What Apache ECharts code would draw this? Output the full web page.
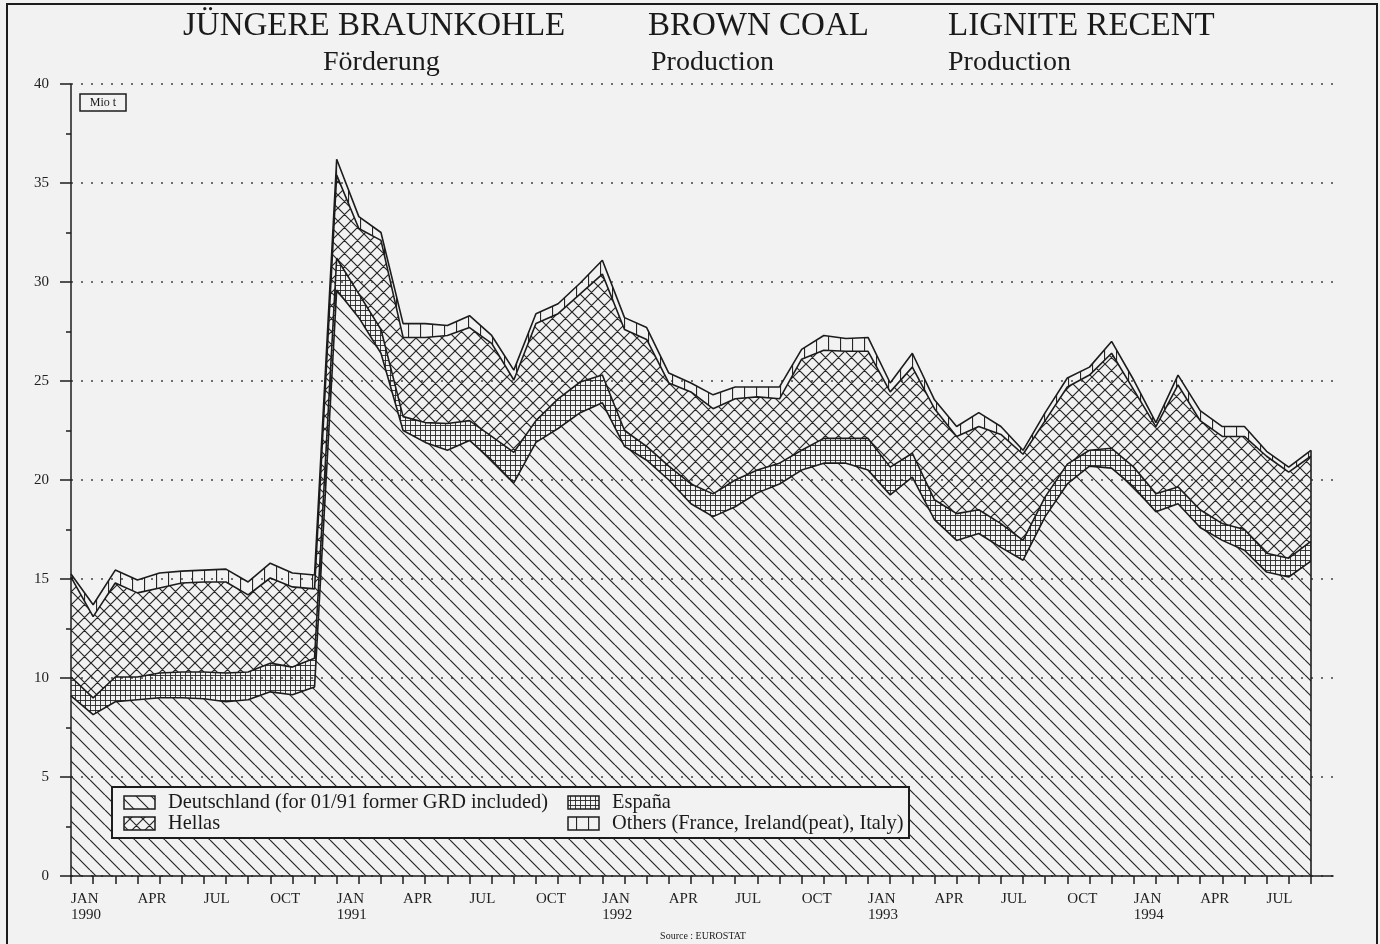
<!DOCTYPE html>
<html>
<head>
<meta charset="utf-8">
<title>Jüngere Braunkohle – Förderung</title>
<script src="https://cdn.jsdelivr.net/npm/echarts@6/dist/echarts.min.js"></script>
<style>
  html, body { margin: 0; padding: 0; background: #f2f2f2; }
  #chart { width: 1380px; height: 944px; }
</style>
</head>
<body>
<div id="chart"></div>
<script>
// monthly production, Mio t, Jan 1990 .. Sep 1994
var monthNames = ["JAN", "FEB", "MAR", "APR", "MAY", "JUN", "JUL", "AUG", "SEP", "OCT", "NOV", "DEC"];
var firstYear = 1990;
var monthCount = 57;
var yTicks = [0, 5, 10, 15, 20, 25, 30, 35, 40];

var deutschland = [9.1, 8.15, 8.8, 8.9, 9.0, 9.0, 8.95, 8.8, 8.9, 9.3, 9.15, 9.55,
  29.6, 28.2, 26.4, 22.5, 21.9, 21.5, 22.0, 21.0, 19.85, 21.9, 22.6, 23.4,
  23.9, 21.7, 21.0, 20.0, 18.8, 18.15, 18.65, 19.35, 19.8, 20.5, 20.85, 20.85,
  20.5, 19.25, 20.15, 18.0, 16.95, 17.3, 16.6, 15.95, 18.15, 19.8, 20.7, 20.6,
  19.65, 18.4, 18.8, 17.6, 16.95, 16.45, 15.35, 15.1, 15.9];
var espana = [0.95, 0.85, 1.25, 1.15, 1.25, 1.3, 1.35, 1.45, 1.4, 1.45, 1.4, 1.45,
  1.6, 1.2, 1.2, 0.7, 1.0, 1.35, 1.0, 1.2, 1.55, 1.1, 1.5, 1.55,
  1.4, 0.8, 0.7, 0.7, 1.0, 1.15, 1.35, 1.15, 1.05, 1.0, 1.25, 1.25,
  1.6, 1.4, 1.2, 1.0, 1.35, 1.2, 1.2, 1.0, 1.0, 1.0, 0.8, 1.0,
  1.0, 0.9, 0.85, 0.9, 0.85, 1.05, 0.95, 0.95, 1.0];
var hellas = [5.05, 4.1, 4.75, 4.25, 4.3, 4.5, 4.55, 4.6, 3.9, 4.3, 4.05, 3.5,
  4.2, 3.3, 4.5, 4.0, 4.3, 4.45, 4.7, 4.7, 3.65, 4.9, 4.3, 4.45,
  5.1, 5.1, 5.4, 4.2, 4.65, 4.3, 4.1, 3.7, 3.25, 4.6, 4.45, 4.4,
  4.4, 3.8, 4.35, 4.6, 3.9, 4.2, 4.5, 4.35, 3.85, 3.9, 3.8, 4.8,
  3.9, 3.4, 5.15, 4.5, 4.4, 4.7, 4.9, 4.35, 4.3];
var others = [0.15, 0.6, 0.65, 0.65, 0.75, 0.6, 0.6, 0.65, 0.65, 0.75, 0.7, 0.7,
  0.8, 0.6, 0.4, 0.7, 0.7, 0.5, 0.6, 0.4, 0.5, 0.5, 0.5, 0.55,
  0.7, 0.6, 0.6, 0.5, 0.45, 0.7, 0.6, 0.5, 0.6, 0.5, 0.75, 0.65,
  0.7, 0.45, 0.7, 0.45, 0.5, 0.7, 0.4, 0.2, 0.4, 0.45, 0.4, 0.6,
  0.5, 0.2, 0.5, 0.5, 0.5, 0.5, 0.25, 0.25, 0.3];

var seriesNames = [
  "Deutschland (for 01/91 former GRD included)",
  "España",
  "Hellas",
  "Others (France, Ireland(peat), Italy)"
];

// one extra empty slot so the axis runs on past the last month
var categories = [];
for (var i = 0; i < monthCount; i++) {
  categories.push(monthNames[i % 12] + " " + (firstYear + Math.floor(i / 12)));
}
categories.push("");

var ink = "#1c1c1c";
var serif = "'Liberation Serif', 'DejaVu Serif', serif";

function makeTile(size, width, draw) {
  var c = document.createElement("canvas");
  c.width = size;
  c.height = size;
  var g = c.getContext("2d");
  g.strokeStyle = "#262626";
  g.lineWidth = width;
  g.beginPath();
  draw(g, size);
  g.stroke();
  return c;
}
var diagTile = makeTile(15, 1.2, function (g, s) {
  for (var k = -1; k <= 1; k++) { g.moveTo(k * s, 0); g.lineTo(k * s + s, s); }
});
var crossTile = makeTile(13, 1.2, function (g, s) {
  for (var k = -1; k <= 1; k++) {
    g.moveTo(k * s, 0); g.lineTo(k * s + s, s);
    g.moveTo(k * s, s); g.lineTo(k * s + s, 0);
  }
});
var gridTile = makeTile(5, 0.9, function (g, s) {
  g.moveTo(0.5, 0); g.lineTo(0.5, s);
  g.moveTo(0, 0.5); g.lineTo(s, 0.5);
});
var vertTile = makeTile(12, 1.2, function (g, s) {
  g.moveTo(0.5, 0); g.lineTo(0.5, s);
});
function pattern(tile) {
  return { image: tile, repeat: "repeat" };
}
var tiles = [diagTile, gridTile, crossTile, vertTile];
var values = [deutschland, espana, hellas, others];

var total = deutschland.map(function (v, i) { return v + espana[i] + hellas[i] + others[i]; });
var last = monthCount - 1;

var series = values.map(function (vals, n) {
  var s = {
    name: seriesNames[n],
    type: "line",
    stack: "coal",
    data: vals,
    symbol: "none",
    silent: true,
    lineStyle: { color: ink, width: 1.6 },
    areaStyle: { color: pattern(tiles[n]), opacity: 1 }
  };
  if (n === 3) {
    s.markLine = {
      silent: true,
      symbol: "none",
      label: { show: false },
      lineStyle: { color: ink, width: 1.6, type: "solid" },
      data: [[{ coord: [last, 0] }, { coord: [last, total[last]] }]]
    };
  }
  return s;
});

function txt(x, y, text, size, align) {
  return {
    type: "text",
    z: 100,
    style: { x: x, y: y, text: text, font: size + "px " + serif, fill: "#1a1a1a", textAlign: align || "left", textVerticalAlign: "middle" }
  };
}

// legend drawn by hand so the swatches can carry the hatch patterns
var legendCells = [
  { x: 124, y: 796, tx: 168 },
  { x: 568, y: 796, tx: 612 },
  { x: 124, y: 817, tx: 168 },
  { x: 568, y: 817, tx: 612 }
];
var legendEls = [{
  type: "rect",
  z: 100,
  shape: { x: 112, y: 787, width: 797, height: 51 },
  style: { fill: "#f2f2f2", stroke: ink, lineWidth: 2 }
}];
legendCells.forEach(function (c, n) {
  legendEls.push({
    type: "rect",
    z: 101,
    shape: { x: c.x, y: c.y, width: 31, height: 13 },
    style: { fill: pattern(tiles[n]), stroke: ink, lineWidth: 1.5 }
  });
  var t = txt(c.tx, c.y + 7, seriesNames[n], 20.4);
  t.z = 101;
  legendEls.push(t);
});

var chart = echarts.init(document.getElementById("chart"));
var option = {
  animation: false,
  grid: { left: 71, right: 47, top: 84, bottom: 68 },
  xAxis: {
    type: "category",
    boundaryGap: false,
    data: categories,
    axisLine: { lineStyle: { color: ink, width: 1.5 } },
    axisTick: {
      length: 8,
      interval: function (i) { return i < monthCount; },
      lineStyle: { color: ink, width: 1.5 }
    },
    axisLabel: {
      interval: function (i) { return i < monthCount && i % 3 === 0; },
      formatter: function (v) {
        var p = v.split(" ");
        return p[0] === "JAN" ? p[0] + "\n" + p[1] : p[0];
      },
      align: "left",
      margin: 15,
      color: "#222",
      fontFamily: serif,
      fontSize: 15,
      lineHeight: 16
    },
    splitLine: { show: false }
  },
  yAxis: {
    type: "value",
    min: yTicks[0],
    max: yTicks[yTicks.length - 1],
    interval: 5,
    axisLine: { show: true, lineStyle: { color: ink, width: 1.5 } },
    axisTick: { show: true, length: 11, lineStyle: { color: ink, width: 1.5 } },
    minorTick: { show: true, splitNumber: 2, length: 5, lineStyle: { color: ink, width: 1.5 } },
    axisLabel: { margin: 22, color: "#222", fontFamily: serif, fontSize: 15 },
    splitLine: { show: true, lineStyle: { color: "#444", width: 1.5, type: [2, 8] } }
  },
  series: series,
  graphic: {
    elements: [
      {
        type: "rect",
        z: -10,
        shape: { x: 7, y: 4, width: 1370, height: 960 },
        style: { fill: "none", stroke: ink, lineWidth: 2 }
      },
      txt(183, 26, "JÜNGERE BRAUNKOHLE", 33),
      txt(648, 26, "BROWN COAL", 33),
      txt(948, 26, "LIGNITE RECENT", 33),
      txt(323, 63, "Förderung", 28),
      txt(651, 63, "Production", 28),
      txt(948, 63, "Production", 28),
      {
        type: "rect",
        z: 100,
        shape: { x: 80, y: 94, width: 46, height: 17 },
        style: { fill: "#f2f2f2", stroke: ink, lineWidth: 1.5 }
      },
      Object.assign(txt(103, 103, "Mio t", 12, "center"), { z: 101 }),
      txt(703, 936, "Source : EUROSTAT", 10, "center")
    ].concat(legendEls)
  }
};
chart.setOption(option);
</script>
</body>
</html>
